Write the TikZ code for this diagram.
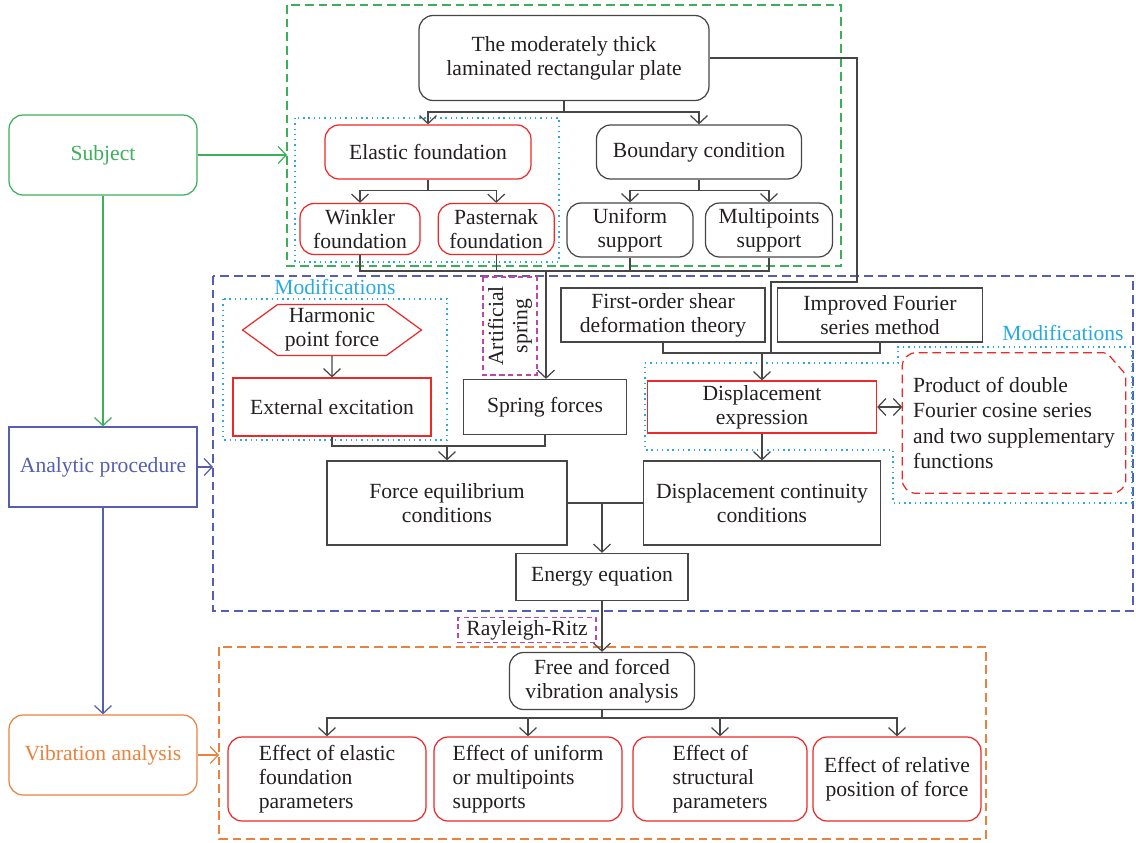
\documentclass[tikz,border=0pt]{standalone}
\usepackage{fontspec}
\setmainfont{Liberation Serif}
\usetikzlibrary{positioning, arrows.meta, shapes.symbols}
\definecolor{line_gray}{RGB}{70,70,70}
\definecolor{text_black}{RGB}{35,31,32}
\definecolor{subj_green}{RGB}{60,175,90}
\definecolor{proc_blue}{RGB}{85,95,175}
\definecolor{vib_orange}{RGB}{232,130,60}
\definecolor{mod_cyan}{RGB}{40,170,225}
\definecolor{key_red}{RGB}{236,40,40}
\definecolor{aux_magenta}{RGB}{190,70,170}

\begin{document}
\begin{tikzpicture}[
    x=0.02cm, y=-0.02cm,
    every node/.style={font=\fontsize{12.3}{13.8}\selectfont, text=text_black, align=center, inner sep=1.5pt},
    box/.style={draw=line_gray, line width=0.7pt},
    roundbox/.style={box, rounded corners=8pt},
    keybox/.style={draw=key_red, line width=0.7pt},
    keyround/.style={keybox, rounded corners=8pt},
    side/.style={line width=0.7pt, minimum width=3.76cm, minimum height=1.6cm},
    effect/.style={keyround, minimum height=1.68cm, align=left},
    group/.style={line width=0.7pt, dash pattern=on 5pt off 2.8pt},
    modgroup/.style={draw=mod_cyan, line width=0.8pt, dash pattern=on 0.8pt off 2.2pt},
    aux/.style={draw=aux_magenta, line width=0.7pt, dash pattern=on 3pt off 2pt},
    link/.style={draw=line_gray, line width=0.7pt},
    >={Straight Barb[length=1.6mm, width=3.4mm]},
]
\useasboundingbox (0,0) rectangle (1136,842);

% side column
\node[side, draw=subj_green, text=subj_green, rounded corners=8pt] (subject) at (103,155) {Subject};
\node[side, draw=proc_blue, text=proc_blue] (analytic) at (103,467) {Analytic procedure};
\node[side, draw=vib_orange, text=vib_orange, rounded corners=8pt] (vibration) at (103,755) {Vibration analysis};

% groups
\draw[group, draw=subj_green] (287,5) rectangle (841,266);
\draw[group, draw=proc_blue] (213,276) rectangle (1133,611);
\draw[group, draw=vib_orange] (219,647) rectangle (986,839);
\draw[modgroup] (295,118) rectangle (559,262);
\draw[modgroup] (223,299) rectangle (447,440);
\draw[modgroup] (645,363) -- (898,363) -- (898,347) -- (1132,347) -- (1132,503) -- (893,503) -- (893,450) -- (645,450) -- cycle;
\coordinate (subject_in) at (287,155);
\coordinate (analytic_in) at (213,467);
\coordinate (vibration_in) at (219,755);

% subject
\node[roundbox, minimum width=5.8cm, minimum height=1.7cm] (plate) at (564,58) {The moderately thick\\laminated rectangular plate};
\node[keyround, minimum width=4.12cm, minimum height=1.08cm] (elastic) at (428,152) {Elastic foundation};
\node[roundbox, minimum width=4.1cm, minimum height=1.08cm] (boundary) at (699,152) {Boundary condition};
\node[keyround, minimum width=2.4cm, minimum height=1.02cm] (winkler) at (360,229) {Winkler\\foundation};
\node[keyround, minimum width=2.32cm, minimum height=1.02cm] (pasternak) [right=0.34cm of winkler] {Pasternak\\foundation};
\node[roundbox, minimum width=2.52cm, minimum height=1.08cm] (uniform) at (630,230) {Uniform\\support};
\node[roundbox, minimum width=2.54cm, minimum height=1.08cm] (multipoints) at (769,230) {Multipoints\\support};

% analytic procedure
\node[text=mod_cyan] (mod_left) at (335,287) {Modifications};
\node[draw=key_red, line width=0.7pt, signal, signal to=west and east, signal pointer angle=72, minimum width=3.58cm, minimum height=1.02cm, inner sep=1pt] (harmonic) at (332,330) {Harmonic\\point force};
\node[keybox, minimum width=3.96cm, minimum height=1.16cm] (external) at (332,407) {External excitation};
\node[aux, rotate=90, minimum width=1.96cm, minimum height=1.08cm, inner sep=1pt] (artificial) at (510,326) {Artificial\\spring};
\node[box, minimum width=3.26cm, minimum height=1.1cm] (spring) at (545,407) {Spring forces};
\node[box, minimum width=4.08cm, minimum height=1.08cm] (shear) at (663,315) {First-order shear\\deformation theory};
\node[box, minimum width=4.1cm, minimum height=1.08cm] (fourier) at (880,315) {Improved Fourier\\series method};
\node[text=mod_cyan] (mod_right) at (1063,333) {Modifications};
\node[keybox, minimum width=4.58cm, minimum height=1.04cm] (displacement) at (762,407) {Displacement\\expression};
\node[minimum width=4.46cm, minimum height=2.8cm, align=left, font=\fontsize{12.3}{14.4}\selectfont] (product) at (1014,423) {Product of double\\Fourier cosine series\\and two supplementary\\functions};
\draw[draw=key_red, line width=0.7pt, dash pattern=on 5pt off 2.8pt, rounded corners=8pt] (product.south west) -- (product.north west) [rounded corners=2pt] -- ([xshift=-0.38cm]product.north east) -- ([yshift=-0.44cm]product.north east) [rounded corners=8pt] -- (product.south east) -- cycle;
\node[box, minimum width=4.8cm, minimum height=1.68cm] (equilibrium) at (447,503) {Force equilibrium\\conditions};
\node[box, minimum width=4.74cm, minimum height=1.68cm] (continuity) at (762,503) {Displacement continuity\\conditions};
\node[box, minimum width=3.44cm, minimum height=0.94cm] (energy) at (602,577) {Energy equation};

% vibration analysis
\node[aux, minimum width=2.76cm, minimum height=0.5cm, inner sep=1pt] (ritz) at (527,630) {Rayleigh-Ritz};
\node[roundbox, minimum width=3.7cm, minimum height=1.14cm] (free) at (602,681) {Free and forced\\vibration analysis};
\node[effect, minimum width=3.96cm] (effect_elastic) at (327,779) {Effect of elastic\\foundation\\parameters};
\node[effect, minimum width=3.76cm] (effect_support) at (528,779) {Effect of uniform\\or multipoints\\supports};
\node[effect, minimum width=3.48cm] (effect_structural) at (720,779) {Effect of\\structural\\parameters};
\node[effect, minimum width=3.36cm, align=center] (effect_position) at (897,779) {Effect of relative\\position of force};

% connections
\draw[->, subj_green, line width=0.7pt] (subject) -- (analytic);
\draw[->, proc_blue, line width=0.7pt] (analytic) -- (vibration);
\draw[->, subj_green, line width=0.7pt] (subject) -- (subject_in);
\draw[->, proc_blue, line width=0.7pt] (analytic) -- (analytic_in);
\draw[->, vib_orange, line width=0.7pt] (vibration) -- (vibration_in);

\foreach \m in {elastic, boundary} {
    \draw[link, ->] (plate.south) -- ++(0,11) -| (\m.north);
}
\foreach \m in {winkler, pasternak} {
    \draw[link, ->] (elastic.south) -- ++(0,11) -| (\m.north);
}
\foreach \m in {uniform, multipoints} {
    \draw[link, ->] (boundary.south) -- ++(0,11) -| (\m.north);
}
\coordinate (top_bus) at (546,271);
\foreach \m in {winkler, pasternak, uniform, multipoints} {
    \draw[link] (\m.south) |- (top_bus);
}
\draw[link, ->] (top_bus) -- (top_bus |- spring.north);

\coordinate (plate_turn) at (857,282);
\coordinate (theory_bus) at (771,353);
\draw[link] (plate.east) -| (plate_turn) -| (theory_bus);
\draw[link] (shear.south) |- (theory_bus);
\draw[link] (fourier.south) |- (theory_bus);
\draw[link, ->] (displacement.north |- theory_bus) -- (displacement.north);

\draw[link, ->] (harmonic) -- (external);
\coordinate (force_bus) at (447,446);
\draw[link] (external.south) |- (force_bus);
\draw[link] (spring.south) |- (force_bus);
\draw[link, ->] (force_bus) -- (equilibrium.north);

\draw[link, ->] (displacement) -- (continuity);
\draw[link, <->] (displacement.east) -- (displacement.east -| product.west);
\draw[link] (equilibrium) -- (continuity);
\draw[link, ->] (energy.north |- equilibrium) -- (energy.north);
\draw[link, ->] (energy) -- (free);

\coordinate (effect_bus) at (602,718);
\foreach \m in {effect_elastic, effect_support, effect_structural, effect_position} {
    \draw[link, ->] (free.south) -- (effect_bus) -| (\m.north);
}
\end{tikzpicture}
\end{document}
